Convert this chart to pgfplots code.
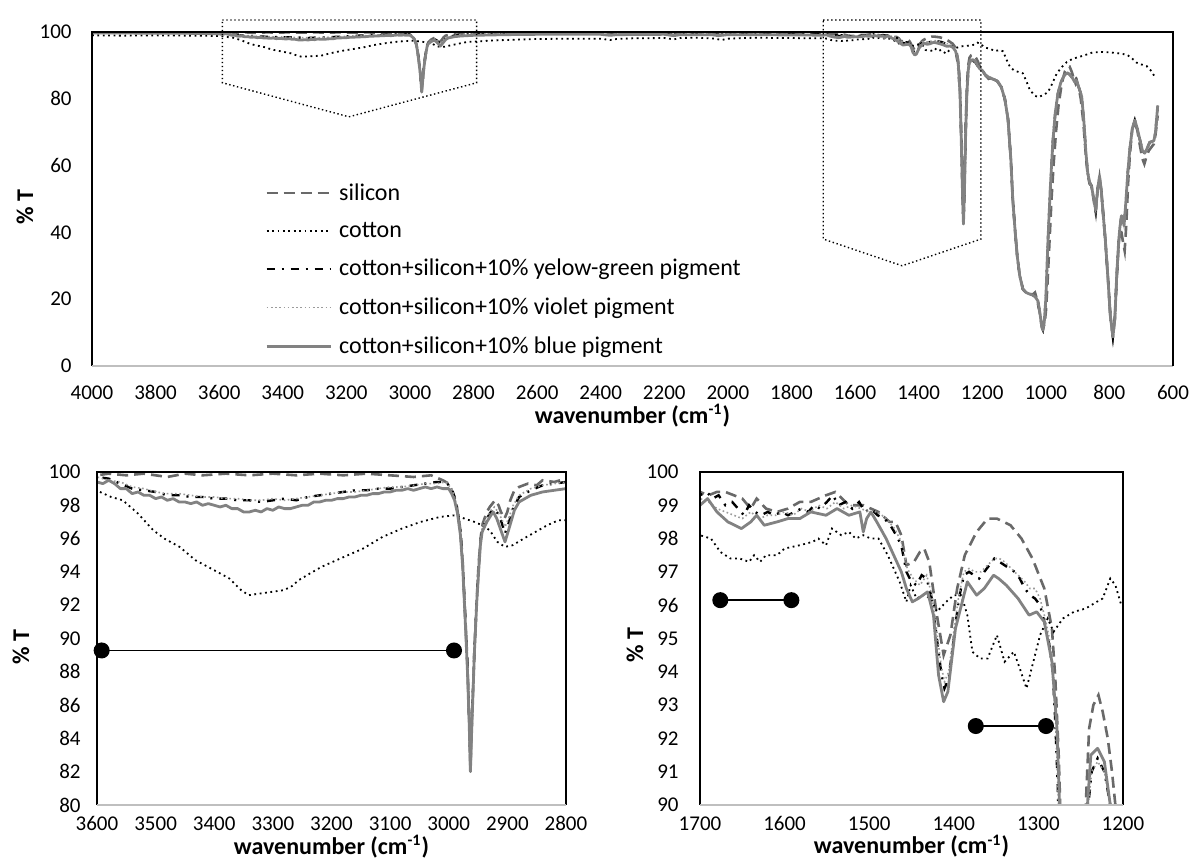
\documentclass[border=0pt]{standalone}
\usepackage{fontspec}
\setmainfont{Carlito}
\usepackage{pgfplots}
\usepackage{pgfplotstable}
\pgfplotsset{compat=1.18}

\definecolor{csil}{RGB}{105,105,105}
\definecolor{cblue}{RGB}{130,130,130}
\definecolor{cviol}{RGB}{155,155,155}
\definecolor{cax}{RGB}{191,191,191}

\pgfplotstableread{
wn T
4000 99.9
3900 99.9
3800 99.9
3700 99.9
3620 99.9
3600 99.8
3580 99.9
3550 99.8
3520 99.9
3480 99.7
3450 99.9
3420 99.8
3380 99.9
3340 99.8
3300 99.9
3260 99.8
3220 99.9
3180 99.8
3140 99.9
3100 99.8
3060 99.7
3030 99.8
3010 99.5
3000 99.3
2996 99.0
2990 98.4
2986 97.9
2980 96.5
2976 94.5
2972 91.5
2968 88.5
2965 85.0
2963 82.1
2961 84.5
2958 87.5
2956 89.5
2952 92.5
2949 94.5
2945 96.2
2942 96.9
2935 97.6
2930 97.9
2921 98.3
2915 98.0
2911 97.6
2905 97.2
2900 97.6
2895 98.3
2888 98.9
2880 99.1
2865 99.3
2850 99.2
2840 99.5
2820 99.4
2800 99.6
2700 99.6
2600 99.7
2500 99.6
2400 99.6
2370 99.3
2350 99.5
2200 99.6
2170 99.2
2150 99.5
2050 99.6
2030 99.3
2000 99.5
1900 99.5
1800 99.4
1750 99.4
1700 99.4
1690 99.3
1680 99.4
1670 99.4
1660 99.3
1650 99.2
1640 98.9
1633 99.2
1622 98.9
1609 98.8
1596 98.9
1582 99.1
1569 99.1
1551 99.3
1540 99.4
1524 99.0
1507 99.0
1489 98.8
1476 98.5
1469 98.5
1462 98.1
1456 97.2
1447 97.3
1440 97.6
1435 97.7
1429 97.3
1420 95.7
1412 94.5
1404 95.1
1396 96.5
1387 97.5
1373 98.2
1360 98.6
1349 98.6
1333 98.4
1320 98.0
1307 97.4
1293 96.5
1284 95.3
1280 93.8
1276 91.5
1273 89.0
1270 83.0
1266 70.0
1262 55.0
1259 43.5
1256 55.0
1252 72.0
1248 84.0
1244 90.0
1240 92.3
1235 93.0
1229 93.3
1224 92.8
1218 92.0
1213 91.0
1209 90.0
1200 88.5
1190 87.0
1180 86.0
1167 86.5
1155 85.5
1140 83.5
1129 80.0
1119 74.0
1110 62.0
1104 50.0
1097 41.0
1090 33.0
1082 27.0
1072 23.0
1062 22.0
1050 21.5
1040 21.5
1034 22.0
1028 20.0
1020 16.5
1014 12.5
1009 11.5
1004 12.5
999 17.0
994 26.0
988 38.0
982 50.0
975 61.0
968 70.0
960 78.0
950 84.5
940 88.2
932 89.4
925 89.6
918 88.0
912 86.0
906 84.5
902 85.3
897 83.5
890 80.0
882 73.0
874 63.0
868 57.0
862 54.5
856 54.0
850 50.0
843 46.0
837 52.5
831 56.5
826 53.0
820 46.0
813 38.0
805 27.0
797 15.0
789 9.0
783 14.0
777 26.0
771 36.0
767 41.0
762 40.0
757 37.0
752 34.5
747 42.0
741 55.0
735 64.0
728 71.0
720 73.0
712 70.5
704 66.0
696 62.0
690 60.5
684 62.5
676 64.5
668 65.5
660 66.5
654 70.0
648 75.0
}\silicon

\pgfplotstableread{
wn T
4000 99.0
3900 98.9
3800 99.0
3700 98.9
3650 98.9
3620 98.8
3595 98.8
3576 98.5
3556 98.3
3530 97.5
3504 96.5
3485 96.0
3459 95.5
3432 94.7
3400 94.1
3374 93.6
3354 92.9
3341 92.6
3322 92.7
3302 92.8
3282 92.9
3269 93.1
3256 93.5
3237 93.9
3217 94.3
3198 94.6
3172 95.0
3146 95.4
3113 96.1
3080 96.6
3048 97.0
3015 97.3
2989 97.4
2973 97.2
2956 97.0
2943 96.8
2930 96.5
2917 95.8
2904 95.5
2891 95.6
2872 96.0
2852 96.4
2832 96.8
2813 97.1
2800 97.1
2750 97.4
2700 97.6
2600 97.9
2500 98.0
2400 98.0
2370 97.6
2350 97.9
2300 98.1
2200 98.2
2170 97.8
2150 98.2
2100 98.3
2040 98.0
2020 97.6
2000 98.0
1950 98.2
1900 98.3
1850 98.2
1800 98.2
1750 98.1
1700 98.1
1687 98.0
1676 97.6
1664 97.4
1653 97.4
1642 97.3
1636 97.5
1629 97.3
1622 97.5
1609 97.5
1600 97.7
1582 97.8
1567 97.9
1560 98.0
1551 97.8
1544 98.3
1533 98.1
1524 98.2
1516 98.0
1507 98.1
1498 98.0
1489 98.0
1478 97.5
1471 97.1
1464 96.7
1456 96.1
1451 96.6
1444 96.2
1436 96.3
1427 96.2
1420 95.8
1409 96.1
1400 96.3
1391 96.3
1384 95.7
1378 94.6
1369 94.4
1360 94.4
1349 95.1
1340 94.3
1329 94.6
1322 94.1
1314 93.5
1307 94.2
1298 95.1
1289 95.6
1282 95.2
1271 95.6
1258 95.8
1244 95.9
1231 96.1
1224 96.2
1215 96.8
1209 96.6
1202 96.0
1200 96.0
1190 95.3
1176 95.0
1160 94.3
1145 94.6
1134 94.2
1125 92.0
1113 89.6
1100 88.5
1085 88.0
1072 87.6
1060 85.0
1050 82.6
1035 81.0
1025 80.5
1010 81.0
993 82.0
980 84.5
966 87.5
950 89.5
934 91.0
915 92.0
893 92.6
870 93.3
852 93.9
825 94.0
799 93.9
770 93.6
745 93.2
730 92.2
714 90.8
700 90.3
683 89.8
670 88.5
657 86.6
}\cotton

\pgfplotstableread{
wn T
4000 99.8
3800 99.8
3650 99.8
3600 99.7
3580 99.6
3560 99.3
3540 99.0
3520 98.9
3500 98.8
3480 98.6
3460 98.6
3440 98.5
3420 98.5
3400 98.4
3380 98.4
3360 98.3
3340 98.3
3320 98.2
3300 98.3
3280 98.4
3260 98.3
3240 98.5
3220 98.6
3200 98.7
3180 98.8
3160 98.9
3140 98.9
3120 99.0
3100 99.0
3080 99.1
3060 99.2
3040 99.3
3020 99.4
3005 99.4
2995 99.0
2990 98.5
2985 97.7
2980 96.4
2976 94.4
2972 91.4
2968 88.3
2965 85.0
2963 82.3
2961 84.5
2958 87.5
2956 89.5
2952 92.4
2949 94.2
2946 95.8
2943 96.5
2935 97.2
2928 97.6
2922 97.8
2916 97.5
2910 97.0
2904 96.3
2898 96.9
2890 97.8
2880 98.5
2860 98.9
2840 99.2
2820 99.3
2800 99.4
2700 99.5
2600 99.5
2500 99.5
2400 99.5
2370 99.1
2350 99.4
2200 99.5
2170 99.1
2150 99.4
2050 99.4
2030 99.1
2000 99.4
1900 99.4
1800 99.3
1750 99.3
1700 99.3
1692 99.4
1685 99.2
1678 99.3
1670 99.0
1662 99.1
1655 98.9
1648 98.7
1642 99.0
1635 98.8
1628 98.7
1620 98.8
1612 98.7
1604 98.8
1596 98.7
1588 98.8
1580 98.9
1572 98.8
1565 99.0
1558 98.9
1550 99.1
1543 99.3
1536 99.0
1528 99.1
1520 98.9
1512 99.1
1505 98.8
1498 98.9
1490 98.7
1482 98.6
1475 98.4
1468 98.1
1462 97.8
1456 97.0
1450 96.7
1444 96.6
1438 96.9
1432 96.8
1426 96.2
1420 95.0
1415 94.0
1411 93.5
1406 93.8
1400 95.0
1394 96.2
1388 96.9
1382 97.0
1376 96.9
1370 96.8
1364 97.0
1358 97.2
1352 97.4
1346 97.3
1340 97.2
1334 97.1
1328 97.0
1322 96.8
1316 96.5
1310 96.3
1304 96.2
1298 96.0
1292 95.4
1287 94.8
1283 94.0
1280 92.5
1277 90.5
1275 88.5
1270 82.0
1266 68.0
1262 52.0
1259 42.5
1256 52.0
1252 70.0
1248 82.0
1244 88.5
1241 90.0
1237 91.0
1230 91.4
1222 91.0
1215 90.0
1208 89.0
1200 88.5
1190 87.2
1176 86.2
1163 85.8
1151 85.2
1140 83.5
1129 80.0
1119 74.0
1110 62.0
1104 50.0
1097 41.0
1090 33.0
1082 27.0
1072 23.0
1062 22.0
1050 21.5
1040 21.2
1032 20.5
1025 19.5
1018 15.5
1012 11.5
1009 10.8
1005 13.0
1000 20.0
993 38.0
986 53.0
978 67.0
970 76.0
962 81.5
953 84.8
945 86.5
938 87.4
931 87.7
924 87.2
916 86.2
909 85.0
905 85.8
900 84.5
893 82.5
887 80.6
880 73.0
874 64.0
868 57.7
862 55.0
856 53.7
850 50.5
843 46.7
837 53.0
831 56.8
826 53.0
820 46.0
813 38.0
805 27.0
797 15.0
789 8.7
783 14.0
777 27.0
771 37.0
767 41.5
762 45.0
758 44.0
754 42.0
749 48.0
742 58.0
736 64.7
728 71.0
720 73.6
712 71.0
704 67.7
696 64.5
689 63.7
682 65.0
673 67.0
665 67.2
660 67.5
655 70.0
648 78.0
}\yg

\pgfplotstableread{
wn T
4000 99.8
3800 99.8
3650 99.8
3600 99.7
3580 99.5
3560 99.4
3540 99.1
3520 99.0
3500 98.8
3480 98.7
3460 98.7
3440 98.6
3420 98.5
3400 98.5
3380 98.4
3360 98.4
3340 98.3
3320 98.3
3300 98.4
3280 98.3
3260 98.4
3240 98.5
3220 98.6
3200 98.7
3180 98.8
3160 98.8
3140 98.9
3120 99.0
3100 99.1
3080 99.1
3060 99.2
3040 99.3
3020 99.3
3005 99.4
2995 99.0
2990 98.5
2985 97.7
2980 96.4
2976 94.4
2972 91.4
2968 88.3
2965 85.0
2963 82.3
2961 84.5
2958 87.5
2956 89.5
2952 92.4
2949 94.2
2946 95.8
2943 96.6
2935 97.3
2928 97.7
2922 97.9
2916 97.6
2910 97.2
2904 96.7
2898 97.2
2890 98.0
2880 98.6
2860 99.0
2840 99.2
2820 99.3
2800 99.4
2700 99.5
2600 99.5
2500 99.5
2400 99.5
2370 99.1
2350 99.4
2200 99.5
2170 99.1
2150 99.4
2050 99.4
2030 99.1
2000 99.4
1900 99.3
1800 99.3
1750 99.2
1700 99.2
1690 99.1
1680 98.9
1670 98.8
1660 98.7
1650 98.6
1640 98.8
1630 98.6
1620 98.7
1610 98.7
1600 98.8
1590 98.7
1580 98.9
1570 98.8
1560 99.0
1550 98.9
1540 99.1
1530 98.9
1520 99.0
1510 98.9
1500 98.8
1490 98.8
1480 98.6
1470 98.3
1462 97.9
1455 97.1
1448 96.8
1440 96.6
1432 96.9
1426 96.3
1420 95.2
1415 94.2
1411 93.7
1406 94.0
1400 95.2
1394 96.3
1388 97.0
1382 97.1
1375 97.0
1368 97.0
1360 97.2
1352 97.4
1346 97.4
1340 97.3
1332 97.1
1324 96.9
1316 96.7
1310 96.5
1304 96.5
1298 96.2
1292 95.6
1287 95.0
1283 94.2
1280 92.7
1277 90.6
1275 88.7
1270 82.0
1266 68.0
1262 52.0
1259 42.5
1256 52.0
1252 70.0
1248 82.0
1244 88.5
1241 90.0
1237 91.0
1230 91.3
1222 91.0
1215 90.0
1208 89.0
1200 88.5
1190 87.2
1176 86.2
1163 85.8
1151 85.2
1140 83.5
1129 80.0
1119 74.0
1110 62.0
1104 50.0
1097 41.0
1090 33.0
1082 27.0
1072 23.0
1062 22.0
1050 21.5
1040 21.2
1032 20.5
1025 19.5
1018 15.5
1012 11.5
1009 10.8
1005 13.0
1000 20.0
993 38.0
986 53.0
978 67.0
970 76.0
962 81.5
953 84.8
945 86.5
938 87.4
931 87.7
924 87.2
916 86.2
909 85.0
905 85.8
900 84.5
893 82.5
887 80.6
880 73.0
874 64.0
868 57.7
862 55.0
856 53.7
850 50.5
843 46.7
837 53.0
831 56.8
826 53.0
820 46.0
813 38.0
805 27.0
797 15.0
789 8.7
783 14.0
777 27.0
771 37.0
767 41.5
762 45.0
758 44.0
754 42.0
749 48.0
742 58.0
736 64.7
728 71.0
720 73.6
712 71.0
704 67.7
696 64.5
689 63.7
682 65.0
673 67.0
665 67.2
660 67.5
655 70.0
648 78.0
}\violet

\pgfplotstableread{
wn T
4000 99.7
3900 99.7
3800 99.6
3700 99.6
3620 99.5
3600 99.4
3590 99.3
3580 99.5
3570 99.3
3560 99.0
3550 99.0
3540 98.7
3530 98.8
3520 98.6
3510 98.6
3500 98.4
3490 98.5
3480 98.3
3470 98.4
3460 98.2
3450 98.2
3440 98.1
3430 98.2
3420 98.0
3410 98.1
3400 98.0
3390 97.9
3380 98.0
3370 97.8
3360 97.8
3350 97.6
3340 97.6
3330 97.7
3320 97.6
3310 97.8
3300 97.7
3290 97.9
3280 97.8
3270 97.8
3260 97.9
3250 98.0
3240 98.0
3230 98.2
3220 98.2
3210 98.3
3200 98.3
3190 98.4
3180 98.4
3170 98.5
3160 98.5
3150 98.6
3140 98.6
3130 98.7
3120 98.7
3110 98.8
3100 98.8
3090 98.9
3080 98.9
3070 99.0
3060 98.9
3050 99.0
3040 99.1
3030 99.0
3020 99.1
3010 99.0
3000 99.0
2995 98.7
2990 98.3
2985 97.5
2980 96.2
2976 94.2
2972 91.2
2968 88.0
2965 84.8
2963 82.0
2961 84.3
2958 87.3
2956 89.3
2952 92.3
2949 94.0
2946 95.6
2943 96.4
2935 97.0
2928 97.4
2924 97.6
2918 97.2
2914 96.8
2910 96.4
2904 95.8
2898 96.5
2893 97.1
2888 97.7
2880 98.2
2870 98.4
2860 98.6
2850 98.7
2840 98.8
2820 98.9
2800 99.0
2700 99.2
2600 99.3
2500 99.3
2400 99.3
2370 99.0
2350 99.2
2200 99.3
2170 98.9
2150 99.2
2050 99.2
2030 98.9
2000 99.2
1900 99.2
1800 99.1
1750 99.1
1700 99.0
1691 99.2
1680 98.8
1667 98.5
1651 98.3
1640 98.5
1633 98.7
1624 98.4
1609 98.5
1596 98.6
1582 98.6
1569 98.8
1551 98.7
1538 98.9
1524 98.7
1511 98.8
1507 98.2
1503 98.6
1498 98.8
1491 98.5
1480 98.0
1471 97.5
1462 97.0
1456 96.5
1449 96.1
1442 96.2
1431 96.4
1424 95.7
1418 93.9
1412 93.1
1407 93.4
1398 95.3
1391 96.0
1384 96.7
1373 96.3
1364 96.5
1353 96.9
1347 96.8
1338 96.6
1324 96.2
1311 95.7
1302 95.8
1293 95.5
1284 94.3
1278 92.3
1275 90.0
1270 82.0
1266 68.0
1262 52.0
1259 42.5
1256 52.0
1252 70.0
1248 82.0
1244 88.5
1242 90.0
1238 91.5
1230 91.7
1222 91.3
1215 90.0
1208 89.0
1200 88.5
1190 87.2
1176 86.2
1163 85.8
1151 85.2
1140 83.5
1129 80.0
1119 74.0
1110 62.0
1104 50.0
1097 41.0
1090 33.0
1082 27.0
1072 23.0
1062 22.0
1050 21.5
1040 21.2
1032 20.5
1025 19.5
1018 15.5
1012 11.5
1009 10.8
1005 13.0
1000 20.0
993 38.0
986 53.0
978 67.0
970 76.0
962 81.5
953 84.8
945 86.5
938 87.4
931 87.7
924 87.2
916 86.2
909 85.0
905 85.8
900 84.5
893 82.5
887 80.6
880 73.0
874 64.0
868 57.7
862 55.0
856 53.7
850 50.5
843 46.7
837 53.0
831 56.8
826 53.0
820 46.0
813 38.0
805 27.0
797 15.0
789 8.7
783 14.0
777 27.0
771 37.0
767 41.5
762 45.0
758 44.0
754 42.0
749 48.0
742 58.0
736 64.7
728 71.0
720 73.6
712 71.0
704 67.7
696 64.5
689 63.7
682 65.0
673 67.0
665 67.2
660 67.5
655 70.0
648 78.0
}\blue

\pgfplotsset{
  ftir/.style={
    scale only axis, x dir=reverse, anchor=south west,
    axis line style={draw=none}, major tick length=0pt,
    tick label style={font=\fontsize{10.5}{12}\selectfont},
    /pgf/number format/assume math mode=true,
    /pgf/number format/1000 sep={},
    label style={font=\bfseries\fontsize{12}{14}\selectfont},
    xlabel={wavenumber (cm\textsuperscript{-1})},
    ylabel={\% T},
    clip mode=individual,
    xticklabel style={anchor=north, inner sep=0pt, text height=6.6pt, text depth=0pt},
    yticklabel style={anchor=east, inner sep=0pt},
    legend image code/.code={\draw[##1] (0pt,0pt) -- (32pt,0pt);},
  },
  sil/.style={color=csil, line width=1.3pt, dash pattern=on 5.5pt off 3pt},
  cot/.style={color=black, line width=0.9pt, dash pattern=on 0.9pt off 1.8pt},
  ygs/.style={color=black, line width=1.2pt, dash pattern=on 4pt off 3.5pt on 1pt off 3.5pt},
  vio/.style={color=cviol, line width=0.8pt, dash pattern=on 0.8pt off 1.3pt},
  blu/.style={color=cblue, line width=1.4pt, line join=round},
}

\newcommand{\allseries}{%
  \addplot[sil] table[x=wn,y=T] {\silicon};
  \addplot[cot] table[x=wn,y=T] {\cotton};
  \addplot[ygs] table[x=wn,y=T] {\yg};
  \addplot[vio] table[x=wn,y=T] {\violet};
  \addplot[blu] table[x=wn,y=T] {\blue};
}
\newcommand{\axframe}{%
  \draw[black, line width=1pt] (rel axis cs:0,0) -- (rel axis cs:0,1) -- (rel axis cs:1,1) -- (rel axis cs:1,0);
  \draw[cax, line width=1pt] (rel axis cs:0,0) -- (rel axis cs:1,0);
}

\begin{document}
\begin{tikzpicture}
\path[use as bounding box] (0pt,0pt) rectangle (595pt,433.5pt);

% ---------- top: full spectrum ----------
\begin{axis}[ftir,
  at={(46pt,250.5pt)}, width=540.5pt, height=167pt,
  xmin=600, xmax=4000, ymin=0, ymax=100,
  xtick={600,800,...,4000}, ytick={0,20,...,100},
  clip=false,
  xticklabel style={yshift=-10.2pt},
  yticklabel style={xshift=-10pt},
  xlabel style={at={(axis description cs:0.5,-0.148)}, anchor=center, inner sep=0pt},
  ylabel style={at={(axis description cs:-0.062,0.476)}, anchor=center},
  legend style={at={(axis description cs:0.160,0.560)}, anchor=north west,
    draw=none, fill=none, inner sep=0pt, row sep=5.5pt, column sep=1.5pt,
    font=\fontsize{12}{14}\selectfont},
  legend cell align=left,
]
\allseries
\legend{silicon, cotton, cotton+silicon+10\% yelow-green pigment,
  cotton+silicon+10\% violet pigment, cotton+silicon+10\% blue pigment}
\addplot[black, line width=0.7pt, dash pattern=on 0.7pt off 1.3pt, forget plot]
  coordinates {(3590,103.6) (2790,103.6) (2790,84.8) (3192,74.6) (3590,84.8) (3590,103.6)};
\addplot[black, line width=0.7pt, dash pattern=on 0.7pt off 1.3pt, forget plot]
  coordinates {(1700,103.6) (1204,103.6) (1204,38.0) (1452,30.0) (1700,38.0) (1700,103.6)};
\axframe
\draw[black, line width=1.4pt] (rel axis cs:1,0) -- (rel axis cs:1,1);
\end{axis}

% ---------- bottom left: 3600-2800 ----------
\begin{axis}[ftir,
  at={(48.5pt,31pt)}, width=234.5pt, height=166.5pt,
  xmin=2800, xmax=3600, ymin=80, ymax=100,
  xtick={2800,2900,...,3600}, ytick={80,82,...,100},
  xticklabel style={yshift=-6.0pt},
  yticklabel style={xshift=-8pt},
  xlabel style={at={(axis description cs:0.5,-0.124)}, anchor=center, inner sep=0pt},
  ylabel style={at={(axis description cs:-0.162,0.474)}, anchor=center},
]
\allseries
\addplot[black, line width=0.8pt, mark=*, mark size=3.6pt, forget plot]
  coordinates {(3592,89.28) (2991,89.28)};
\axframe
\end{axis}

% ---------- bottom right: 1700-1200 ----------
\begin{axis}[ftir,
  at={(350pt,31pt)}, width=211.5pt, height=166.5pt,
  xmin=1200, xmax=1700, ymin=90, ymax=100,
  xtick={1200,1300,...,1700}, ytick={90,91,...,100},
  xticklabel style={yshift=-6.0pt},
  yticklabel style={xshift=-10.5pt},
  xlabel style={at={(axis description cs:0.5,-0.124)}, anchor=center, inner sep=0pt},
  ylabel style={at={(axis description cs:-0.154,0.48)}, anchor=center},
]
\allseries
\addplot[black, line width=0.8pt, mark=*, mark size=3.6pt, forget plot]
  coordinates {(1676,96.15) (1592,96.15)};
\addplot[black, line width=0.8pt, mark=*, mark size=3.6pt, forget plot]
  coordinates {(1374,92.37) (1291,92.37)};
\axframe
\end{axis}
\end{tikzpicture}
\end{document}
